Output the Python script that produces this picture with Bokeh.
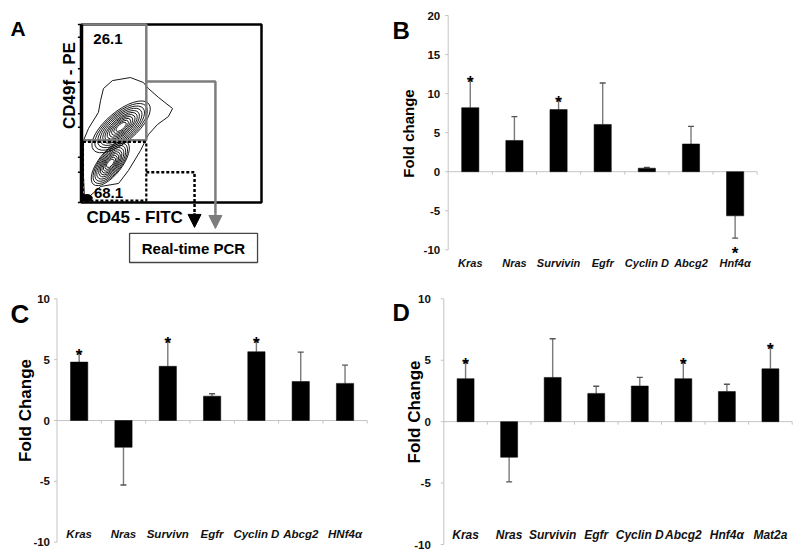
import math
from bokeh.plotting import figure
from bokeh.models import Range1d, Arrow, NormalHead
from bokeh.layouts import column, row
from bokeh.embed import file_html
from bokeh.resources import INLINE
from bokeh.core.properties import value

FONT = "Liberation Sans"
AXIS_GRAY = "#c4c4c4"
ERR_GRAY = "#7a7a7a"
GATE_GRAY = "#7d7d7d"

# ---------------- data ----------------
# Panel A: flow cytometry (CD45-FITC vs CD49f-PE), gate percentages
a_gate_hi_label = "26.1"
a_gate_lo_label = "68.1"
a_axis_x = "CD45 - FITC"
a_axis_y = "CD49f - PE"
a_box_text = "Real-time PCR"
# gates in relative fluorescence units (0-100 box)
a_gate_hi = [0, 36, 35, 100]          # left, right, bottom, top
a_gate_lo = [0.8, 36, 1, 34]
a_ticks = [0, 17, 25.4, 42.3, 49.8, 67.6, 75.1, 92.9, 100]
# density contour envelope
a_env_x = [12.2, 17.2, 27.2, 34.4, 37.2, 42.8, 50.6, 48.3, 42.2, 37.2, 32.8, 26.1,
           20.6, 10.6, 5.0, 1.7, 1.1, 1.1, 3.9, 9.4, 10.6]
a_env_y = [64.0, 68.5, 70.2, 67.4, 64.0, 59.0, 52.8, 48.3, 43.8, 38.2, 29.2, 18.0,
           10.7, 9.0, 3.9, 1.7, 15.2, 34.8, 41.6, 50.6, 57.3]
# two populations: concentric density levels (major, minor)
a_pop_x = [22.0, 16.0]
a_pop_y = [42.5, 22.0]
a_pop_angle = [0.70, 0.90]
a_pop_major = [[40, 36, 32, 28.5, 25, 22, 19, 16, 13, 10, 7],
               [30, 27, 24, 21, 18, 15.5, 13, 10.5, 8, 5.5]]
a_pop_minor = [[17, 15.5, 14, 12.5, 11, 9.5, 8.2, 6.9, 5.6, 4.3, 3],
               [13, 12, 10.8, 9.6, 8.4, 7.3, 6.2, 5.1, 4, 2.8]]

# Panel B
b_genes = ["Kras", "Nras", "Survivin", "Egfr", "Cyclin D", "Abcg2", "Hnf4α"]
b_mean = [8.2, 4.0, 7.95, 6.05, 0.45, 3.55, -5.65]
b_sd = [3.65, 3.05, 1.35, 5.3, 0.1, 2.25, 2.85]
b_star = [True, False, True, False, False, False, True]
b_yticks = [-10, -5, 0, 5, 10, 15, 20]

# Panel C
c_genes = ["Kras", "Nras", "Survivn", "Egfr", "Cyclin D", "Abcg2", "HNf4α"]
c_mean = [4.8, -2.2, 4.45, 2.0, 5.65, 3.2, 3.05]
c_sd = [0.82, 3.1, 2.2, 0.2, 0.93, 2.42, 1.5]
c_star = [True, False, True, False, True, False, False]
c_yticks = [-10, -5, 0, 5, 10]

# Panel D
d_genes = ["Kras", "Nras", "Survivin", "Egfr", "Cyclin D", "Abcg2", "Hnf4α", "Mat2a"]
d_mean = [3.5, -2.9, 3.6, 2.3, 2.9, 3.5, 2.45, 4.3]
d_sd = [1.4, 2.0, 3.15, 0.58, 0.7, 1.44, 0.6, 1.82]
d_star = [True, False, False, False, False, True, False, True]
d_yticks = [-10, -5, 0, 5, 10]


def base_fig(width, height, xr, yr):
    p = figure(width=width, height=height, x_range=xr, y_range=yr,
               output_backend="svg", toolbar_location=None, title=None,
               x_axis_type=None, y_axis_type=None,
               min_border=0, min_border_left=0, min_border_right=0,
               min_border_top=0, min_border_bottom=0)
    p.grid.visible = False
    p.outline_line_color = None
    p.background_fill_color = "white"
    p.border_fill_color = "white"
    return p


def txt(p, x, y, text, size, **kw):
    args = dict(text_font=value(FONT), text_font_style="bold", text_font_size=size,
                text_color="black", text_align="center", text_baseline="middle")
    args.update(kw)
    p.text(x=x, y=y, text=text, **args)


def bar_panel(genes, mean, sd, star, yticks, *, width, height, box, tick_standoff,
              xlabel_size, xlabel_py, ylabel, ylabel_size, ylabel_px, letter, letter_px,
              letter_size):
    """box = (x0, y0, x1, y1): figure pixels of the plotting area (axis extents)."""
    n = len(genes)
    ylo, yhi = yticks[0], yticks[-1]
    bx0, by0, bx1, by1 = box
    ppx = (bx1 - bx0) / n
    ppy = (by1 - by0) / (yhi - ylo)
    xr = Range1d(-bx0 / ppx, (width - bx0) / ppx)
    yr = Range1d(yhi - (height - by0) / ppy, yhi + by0 / ppy)
    p = base_fig(width, height, xr, yr)

    def dx(fx):
        return (fx - bx0) / ppx

    def dy(fy):
        return yhi - (fy - by0) / ppy

    xs = [i + 0.5 for i in range(n)]
    ends = [m + (s if m >= 0 else -s) for m, s in zip(mean, sd)]
    m = len(yticks)

    # value axis: line, outward ticks, labels
    p.segment(x0=[0], y0=[ylo], x1=[0], y1=[yhi], line_color=AXIS_GRAY, line_width=1)
    p.segment(x0=[0] * m, y0=yticks, x1=[-3 / ppx] * m, y1=yticks,
              line_color=AXIS_GRAY, line_width=1)
    txt(p, [0] * m, yticks, [str(t) for t in yticks], "11.5px", text_align="right",
        x_offset=-(3 + tick_standoff), text_color="#111111")

    # category axis at zero with boundary ticks
    p.segment(x0=[0], y0=[0], x1=[n], y1=[0], line_color=AXIS_GRAY, line_width=1)
    bounds = list(range(1, n + 1))
    p.segment(x0=bounds, y0=[0] * n, x1=bounds, y1=[-3 / ppy] * n,
              line_color=AXIS_GRAY, line_width=1)

    # error whiskers (one-sided) and caps
    p.segment(x0=xs, y0=mean, x1=xs, y1=ends, line_color=ERR_GRAY, line_width=1.4)
    cap = 3 / ppx
    p.segment(x0=[x - cap for x in xs], y0=ends, x1=[x + cap for x in xs], y1=ends,
              line_color="#555555", line_width=1.4)

    # bars
    p.vbar(x=xs, top=mean, bottom=0, width=0.39, fill_color="black", line_color="black",
           line_width=0.5)

    # significance
    sx = [x for x, s in zip(xs, star) if s]
    sy = [e for e, s in zip(ends, star) if s]
    so = [3.5 if mv >= 0 else 15.5 for mv, s in zip(mean, star) if s]
    txt(p, sx, sy, ["*"] * len(sx), "17px", y_offset=so, text_baseline="alphabetic")

    # category labels
    txt(p, xs, [dy(xlabel_py)] * n, genes, xlabel_size, text_font_style="bold italic",
        text_color="#111111")

    # axis title and panel letter
    txt(p, [dx(ylabel_px[0])], [dy(ylabel_px[1])], [ylabel], ylabel_size,
        angle=[math.pi / 2], text_baseline="alphabetic")
    txt(p, [dx(letter_px[0])], [dy(letter_px[1])], [letter], letter_size,
        text_align="left", text_baseline="alphabetic")
    return p


# ---------------- Panel A ----------------
pA = base_fig(385, 272, Range1d(-45.0, 168.89), Range1d(-39.33, 113.48))

# contours
pA.patch(a_env_x, a_env_y, fill_color=None, line_color="black", line_width=0.9)
ex, ey, ew, eh, ea = [], [], [], [], []
for cx, cy, ang, majors, minors in zip(a_pop_x, a_pop_y, a_pop_angle, a_pop_major, a_pop_minor):
    for w, h in zip(majors, minors):
        ex.append(cx); ey.append(cy); ew.append(w); eh.append(h); ea.append(ang)
pA.ellipse(x=ex, y=ey, width=ew, height=eh, angle=ea, fill_color=None,
           line_color="black", line_width=0.9)
pA.ellipse(x=[3], y=[2.5], width=[6], height=[4], fill_color="black", line_color="black")

# plot box
pA.quad(left=[0], right=[100], bottom=[0], top=[100], fill_color=None,
        line_color="black", line_width=2.5)
# gates
gl, gr, gb, gt = a_gate_hi
pA.quad(left=[gl], right=[gr], bottom=[gb], top=[gt], fill_color=None,
        line_color=GATE_GRAY, line_width=2.5)
dl, dr, db, dt = a_gate_lo
pA.quad(left=[dl], right=[dr], bottom=[db], top=[dt], fill_color=None,
        line_color="black", line_width=2.2, line_dash="3 2")
pA.line([0, 0], [0, 100], line_color="black", line_width=3.5)
k = len(a_ticks)
pA.segment(x0=[0] * k, y0=a_ticks, x1=[-2] * k, y1=a_ticks, line_color="black", line_width=1.5)

# sort paths and arrows
pA.line([gr, 74.4, 74.4], [68, 68, -6], line_color=GATE_GRAY, line_width=2.5)
pA.add_layout(Arrow(end=NormalHead(size=13, fill_color=GATE_GRAY, line_color=GATE_GRAY),
                    x_start=74.4, y_start=-6, x_end=74.4, y_end=-14.6,
                    line_color=GATE_GRAY, line_width=2.5))
pA.line([dr, 62.8, 62.8], [17, 17, -6], line_color="black", line_width=2.5, line_dash="3 2")
pA.add_layout(Arrow(end=NormalHead(size=13, fill_color="black", line_color="black"),
                    x_start=62.8, y_start=-6, x_end=62.8, y_end=-14.0,
                    line_color="black", line_width=2.5))

# Real-time PCR box
pA.quad(left=[26.7], right=[97.8], bottom=[-33.7], top=[-17.4], fill_color=None,
        line_color="#444444", line_width=1.3)
txt(pA, [62.2], [-25.6], [a_box_text], "15px")

# texts
txt(pA, [14.7, 15.0], [91.6, 5.6], [a_gate_hi_label, a_gate_lo_label], "15px")
txt(pA, [2.8], [-8.4], [a_axis_x], "17px", text_align="left")
txt(pA, [-6.7], [65.7], [a_axis_y], "17px", angle=[math.pi / 2])
txt(pA, [-39.44], [97.75], ["A"], "21px", text_align="left", text_baseline="alphabetic")

# ---------------- Panels B, C, D ----------------
pB = bar_panel(b_genes, b_mean, b_sd, b_star, b_yticks, width=415, height=272,
               box=(62.7, 15.0, 371.7, 249.3), tick_standoff=5,
               xlabel_size="11px", xlabel_py=262,
               ylabel="Fold change", ylabel_size="15px", ylabel_px=(23.3, 133),
               letter="B", letter_px=(7, 30), letter_size="24px")

pC = bar_panel(c_genes, c_mean, c_sd, c_star, c_yticks, width=385, height=287,
               box=(56.5, 26.3, 366.7, 269.7), tick_standoff=4,
               xlabel_size="11.5px", xlabel_py=261,
               ylabel="Fold Change", ylabel_size="17px", ylabel_px=(25, 138),
               letter="C", letter_px=(10, 41), letter_size="26px")

pD = bar_panel(d_genes, d_mean, d_sd, d_star, d_yticks, width=415, height=287,
               box=(58.3, 26.3, 406.7, 272.0), tick_standoff=10,
               xlabel_size="12px", xlabel_py=262,
               ylabel="Fold Change", ylabel_size="17px", ylabel_px=(28.5, 139.5),
               letter="D", letter_px=(7, 40), letter_size="24px")

layout = column(row(pA, pB), row(pC, pD))
open("out.html", "w").write(file_html(layout, INLINE))
